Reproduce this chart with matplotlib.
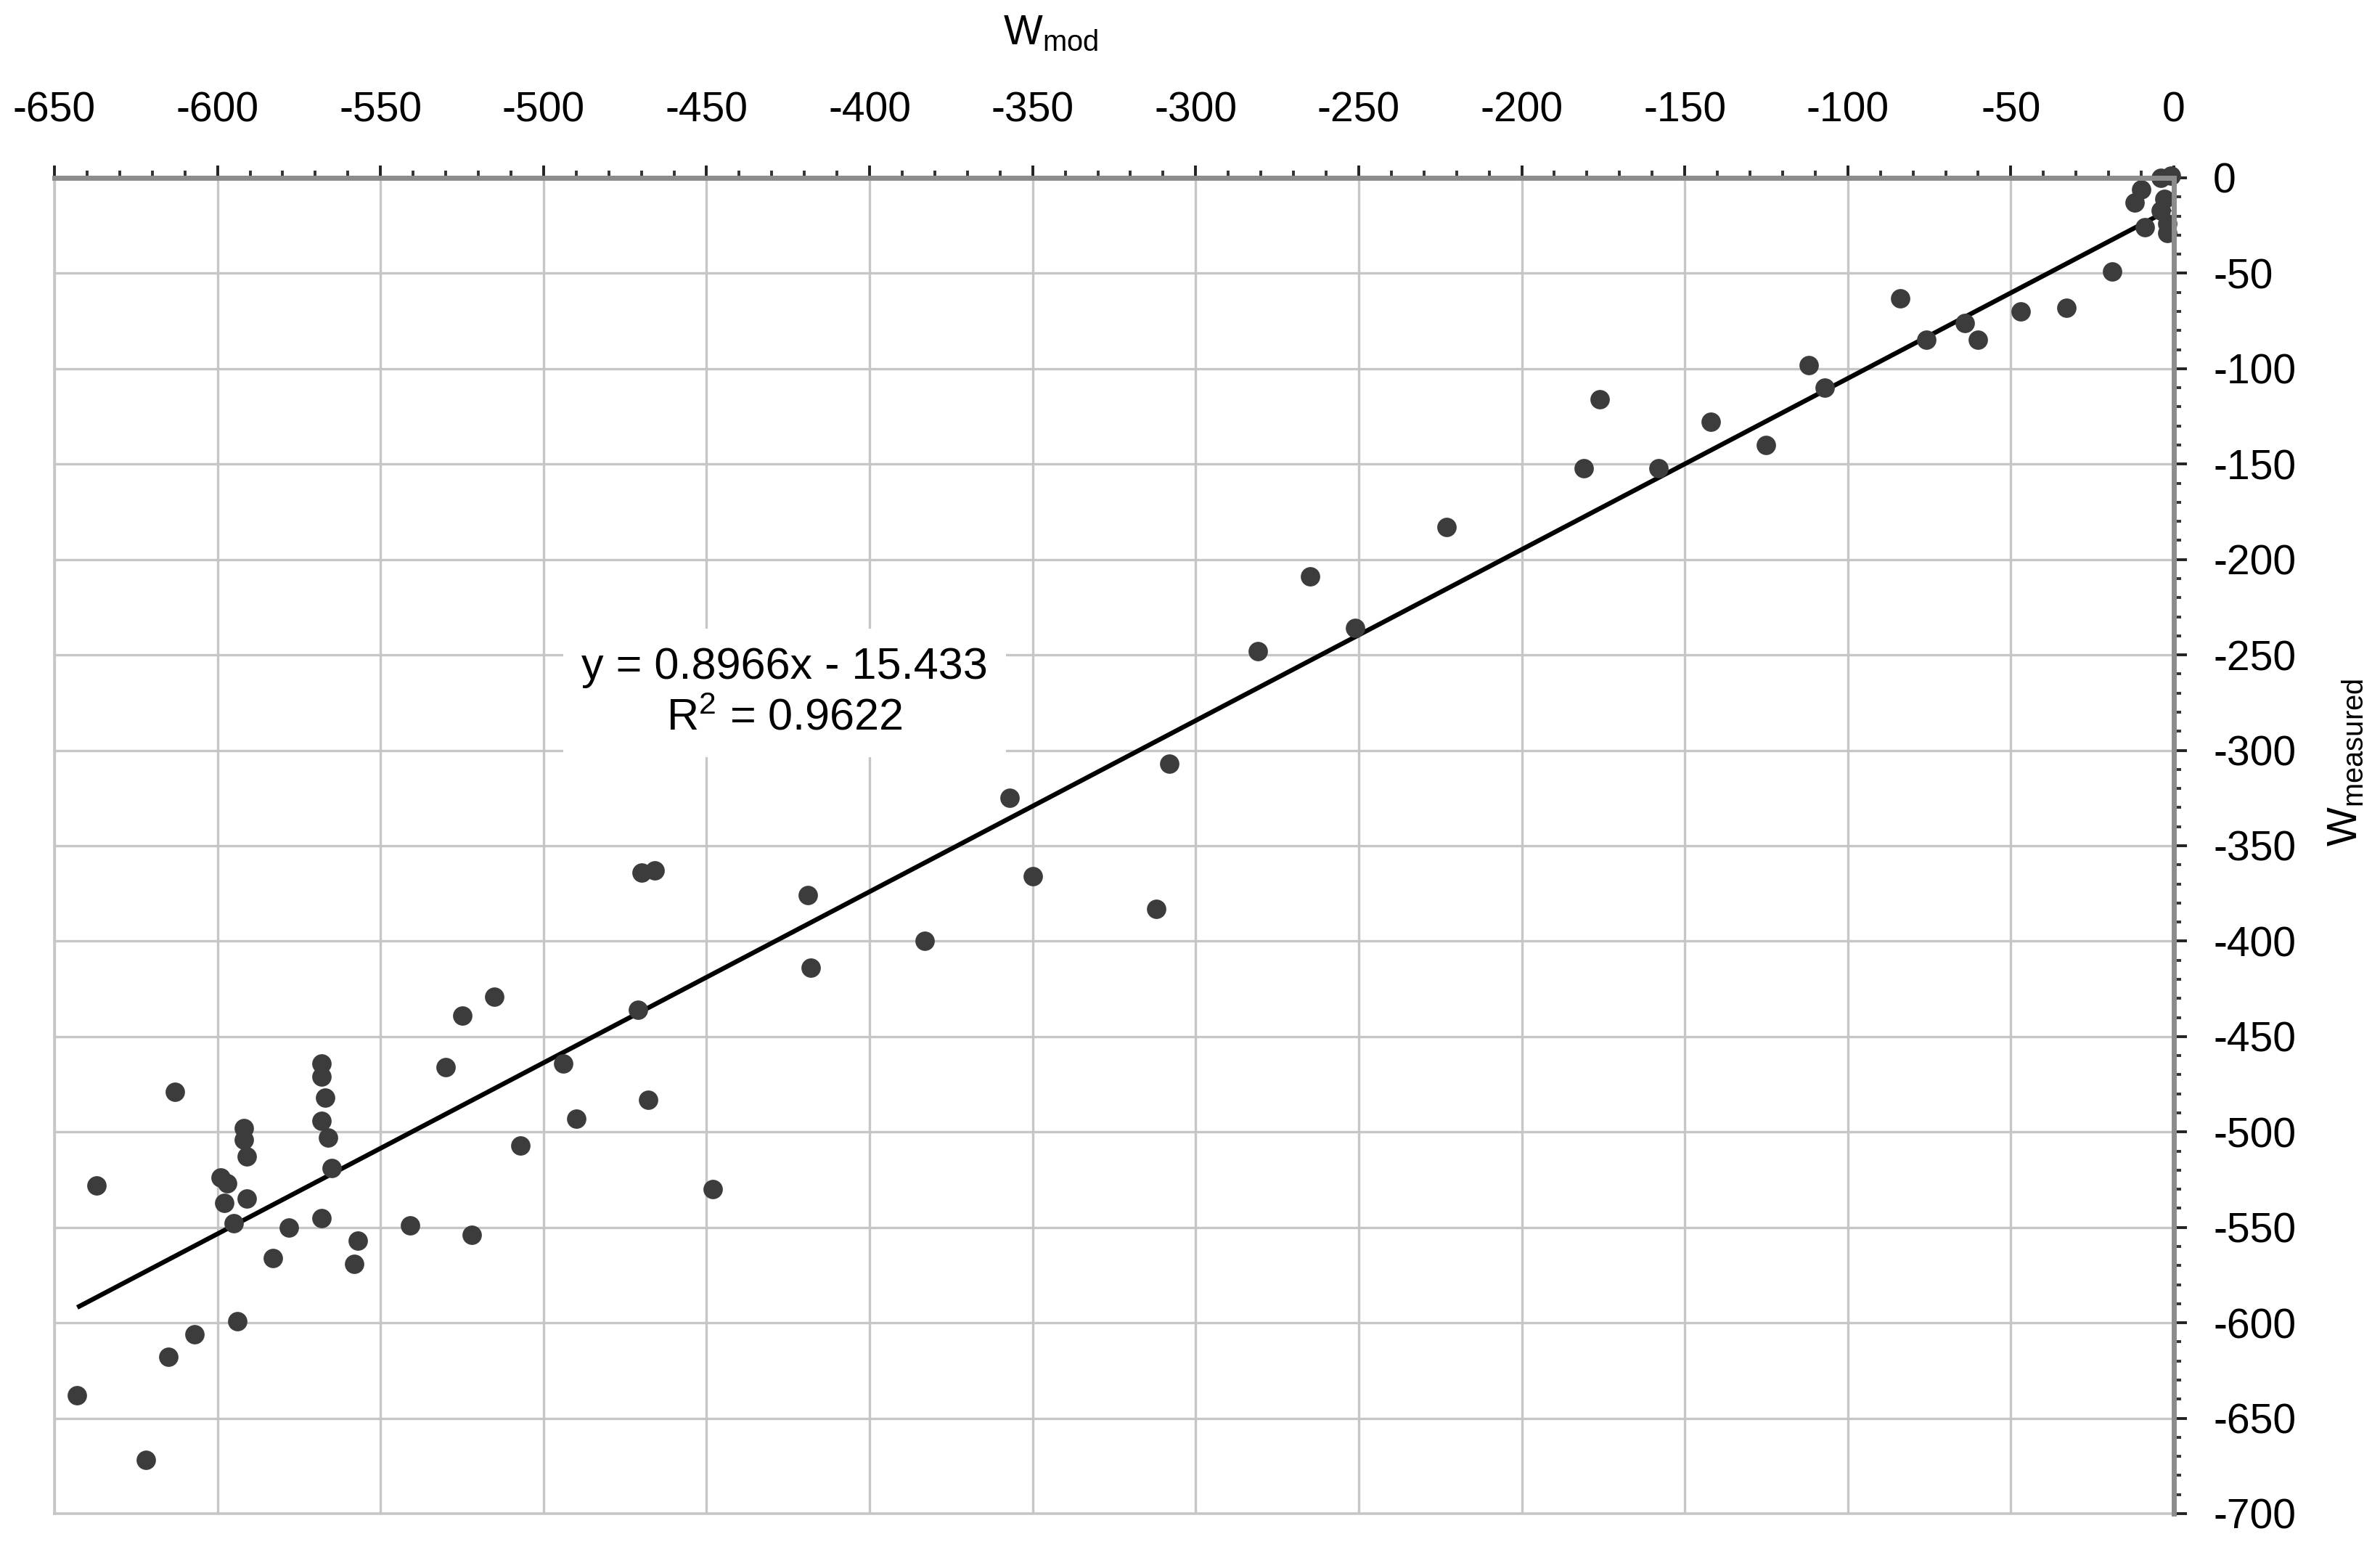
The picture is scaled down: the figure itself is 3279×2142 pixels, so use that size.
import matplotlib
matplotlib.use("Agg")
import matplotlib.pyplot as plt
from matplotlib.ticker import MultipleLocator
import numpy as np

plt.rcParams['font.family'] = ['Liberation Sans', 'DejaVu Sans']
plt.rcParams['mathtext.fontset'] = 'custom'
plt.rcParams['mathtext.rm'] = 'Liberation Sans'
plt.rcParams['mathtext.it'] = 'Liberation Sans:italic'
plt.rcParams['axes.unicode_minus'] = False

# ---- data ----
w_mod = [-4, -1, -10, -12, -3, -4, -9, -2, -2,
         -19, -33, -47, -64, -60, -76, -84, -112, -107, -125, -142, -158, -176, -181,
         -223, -265, -251, -281, -308, -312, -357, -350, -383, -419, -418, -466, -470,
         -471, -468, -448, -494, -490, -507, -515, -525, -530, -522, -541, -557, -558,
         -568, -568, -567, -568, -566, -565, -568,
         -592, -592, -591, -599, -597, -598, -591, -595,
         -578, -583, -613, -637, -594, -607, -615, -643, -622]
w_measured = [0, 1, -6, -13, -11, -17, -26, -24, -29,
              -49, -68, -70, -76, -85, -85, -63, -98, -110, -140, -128, -152, -116, -152,
              -183, -209, -236, -248, -307, -383, -325, -366, -400, -376, -414, -363, -364,
              -436, -483, -530, -464, -493, -507, -429, -439, -466, -554, -549, -557, -569,
              -464, -471, -482, -494, -503, -519, -545,
              -498, -504, -513, -524, -527, -537, -535, -548,
              -550, -566, -479, -528, -599, -606, -618, -638, -672]

slope = 0.8966
intercept = -15.433
eq_text = "y = 0.8966x - 15.433\nR$^2$ = 0.9622"
xlabel = "W$_{\\mathrm{mod}}$"
ylabel = "W$_{\\mathrm{measured}}$"

fig = plt.figure(figsize=(32.8, 21.42), dpi=100)
ax = fig.add_axes([75/3280, 1-2085/2142, (2995-75)/3280, (2085-245)/2142])

ax.scatter(w_mod, w_measured, s=370, color='#3c3c3c', zorder=4, clip_on=False, linewidths=0)

xs = np.array([min(w_mod), max(w_mod)])
ax.plot(xs, slope*xs + intercept, color='black', lw=4.6, zorder=3, solid_capstyle='butt')

ax.set_xlim(-650, 0)
ax.set_ylim(-700, 0)

ax.xaxis.tick_top()
ax.yaxis.tick_right()
ax.xaxis.set_major_locator(MultipleLocator(50))
ax.xaxis.set_minor_locator(MultipleLocator(10))
ax.yaxis.set_major_locator(MultipleLocator(50))
ax.yaxis.set_minor_locator(MultipleLocator(10))

ax.grid(True, which='major', color='#c6c6c6', lw=2.4, zorder=0)
ax.set_axisbelow(True)

for side in ['top', 'right']:
    ax.spines[side].set_color('#8c8c8c')
    ax.spines[side].set_linewidth(5)
    ax.spines[side].set_zorder(5)
for side in ['left', 'bottom']:
    ax.spines[side].set_color('#c6c6c6')
    ax.spines[side].set_linewidth(2.6)

ax.tick_params(axis='x', which='major', direction='out', length=12, width=2.8,
               color='#222222', labelsize=41, pad=35)
ax.tick_params(axis='x', which='minor', direction='out', length=7, width=2.8, color='#333333')
ax.tick_params(axis='y', which='major', direction='out', length=13, width=2.8,
               color='#222222', labelsize=41, pad=26)
ax.tick_params(axis='y', which='minor', direction='out', length=7, width=2.8, color='#333333')

ax.text(-426, -270, eq_text, fontsize=44, ha='center', va='center', linespacing=1.3,
        zorder=6, bbox=dict(facecolor='white', edgecolor='none', pad=18))

fig.text(1448/3280, 1-46/2142, xlabel, fontsize=41, ha='center', va='center')
fig.text(3232/3280, 1-1050/2142, ylabel, fontsize=41, ha='center', va='center', rotation=90)

fig.savefig("out.png", dpi=100, facecolor='white')
